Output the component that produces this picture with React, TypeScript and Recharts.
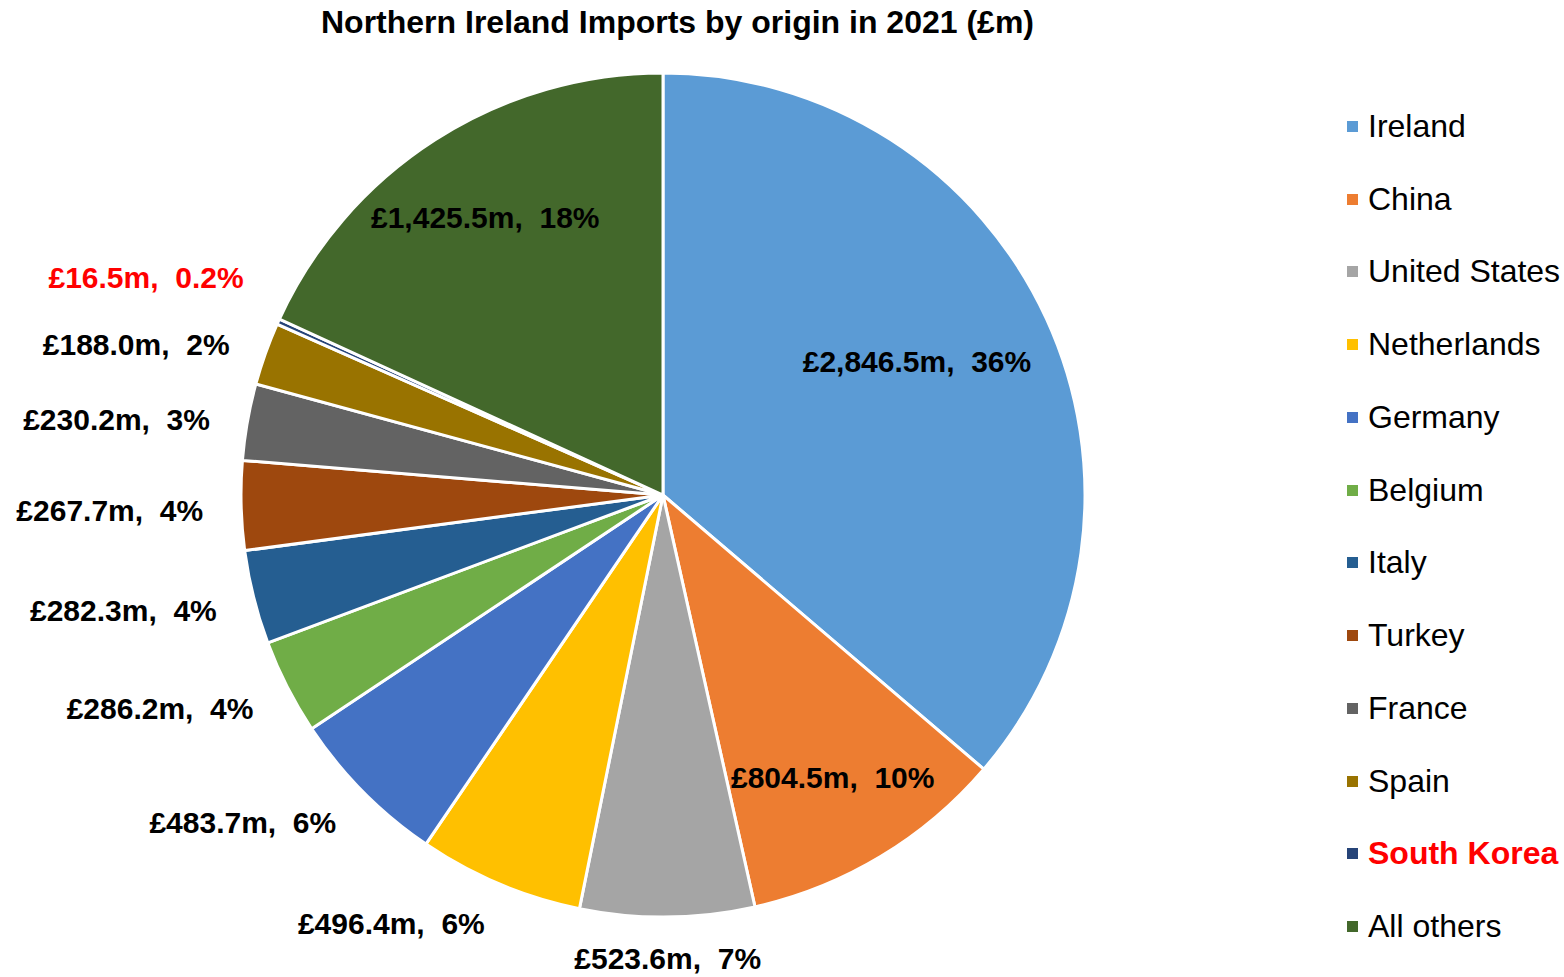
import { PieChart, Pie, Cell, Legend } from 'recharts'

const countries = ['Ireland', 'China', 'United States', 'Netherlands', 'Germany', 'Belgium', 'Italy', 'Turkey', 'France', 'Spain', 'South Korea', 'All others']
const importsGbpM = [2846.5, 804.5, 523.6, 496.4, 483.7, 286.2, 282.3, 267.7, 230.2, 188.0, 16.5, 1425.5]
const shareLabels = ['36%', '10%', '7%', '6%', '6%', '4%', '4%', '4%', '3%', '2%', '0.2%', '18%']
const colours = ['#5B9BD5', '#ED7D31', '#A5A5A5', '#FFC000', '#4472C4', '#70AD47', '#255E91', '#9E480E', '#636363', '#997300', '#264478', '#43682B']
const highlighted = 'South Korea'

const data = countries.map((name, i) => ({ name, value: importsGbpM[i], share: shareLabels[i] }))

const FONT = '"Liberation Sans", Arial, sans-serif'
const RAD = Math.PI / 180

const fmt = (v: number) =>
    `£${v.toLocaleString('en-GB', { minimumFractionDigits: 1, maximumFractionDigits: 1 })}m`

const renderLabel = (props: any) => {
    const { cx, cy, midAngle, outerRadius, percent, index } = props
    const d = data[index]
    const inside = percent > 0.09
    let r: number
    let anchor: 'start' | 'middle' | 'end' = 'middle'
    let angle = midAngle
    if (inside) {
        r = outerRadius * (percent > 0.3 ? 0.68 : 0.78)
        // the big slice's label sits a little above its bisector
        if (percent > 0.3) angle += 3
    } else {
        r = outerRadius * 1.09
    }
    const cos = Math.cos(-angle * RAD)
    const sin = Math.sin(-angle * RAD)
    const x = cx + r * cos
    let y = cy + r * sin
    if (!inside) {
        if (Math.abs(cos) > 0.2) anchor = cos < 0 ? 'end' : 'start'
        y += 4
        // tiny slice: nudge up so it clears the neighbouring label
        if (percent < 0.01) y -= 33
    }
    return (
        <text
            x={x}
            y={y}
            textAnchor={anchor}
            dominantBaseline="central"
            fontFamily={FONT}
            fontWeight="bold"
            fontSize={30}
            fill={d.name === highlighted ? '#FF0000' : '#000000'}
            style={{ whiteSpace: 'pre' }}
        >
            {`${fmt(d.value)},  ${d.share}`}
        </text>
    )
}

const LegendList = () => (
    <div style={{ fontFamily: FONT }}>
        {countries.map((c, i) => (
            <div key={c} style={{ height: 72.75, display: 'flex', alignItems: 'center' }}>
                <span style={{ width: 11, height: 11, background: colours[i], display: 'inline-block', marginRight: 10 }} />
                <span
                    style={{
                        fontSize: 32,
                        fontWeight: c === highlighted ? 'bold' : 'normal',
                        color: c === highlighted ? '#FF0000' : '#000000',
                        whiteSpace: 'nowrap',
                    }}
                >
                    {c}
                </span>
            </div>
        ))}
    </div>
)

export default function App() {
    return (
        <div style={{ position: 'relative', width: 1564, height: 977, background: '#fff' }}>
            <style>{'body{margin:0}'}</style>
            <div
                style={{
                    position: 'absolute',
                    left: 0,
                    top: 5,
                    width: 1355,
                    textAlign: 'center',
                    fontFamily: FONT,
                    fontWeight: 'bold',
                    fontSize: 32,
                    lineHeight: '34px',
                    color: '#000',
                    zIndex: 2,
                }}
            >
                Northern Ireland Imports by origin in 2021 (£m)
            </div>
            <PieChart width={1564} height={977}>
                <Pie
                    data={data}
                    dataKey="value"
                    nameKey="name"
                    cx={658}
                    cy={490}
                    outerRadius={422}
                    startAngle={90}
                    endAngle={-270}
                    stroke="#ffffff"
                    strokeWidth={3}
                    label={renderLabel}
                    labelLine={false}
                    isAnimationActive={false}
                >
                    {data.map((d, i) => (
                        <Cell key={d.name} fill={colours[i]} />
                    ))}
                </Pie>
                <Legend
                    layout="vertical"
                    align="right"
                    verticalAlign="top"
                    content={() => <LegendList />}
                    wrapperStyle={{ position: 'absolute', left: 1347, top: 90, width: 217 }}
                />
            </PieChart>
        </div>
    )
}
